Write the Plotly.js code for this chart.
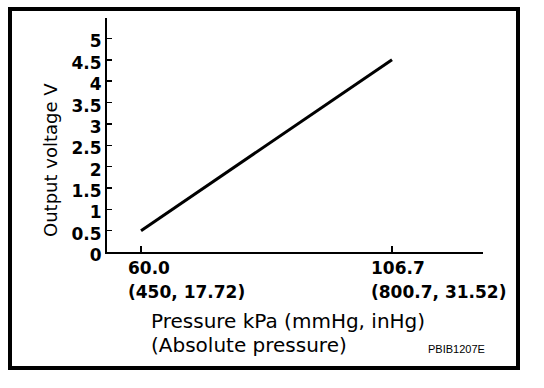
<!DOCTYPE html>
<html>
<head>
<meta charset="utf-8">
<script src="https://cdn.plot.ly/plotly-3.0.1.min.js"></script>
<style>
  html, body { margin: 0; padding: 0; background: #fff; }
  #wrap { position: relative; width: 544px; height: 388px; }
  #chart { width: 544px; height: 388px; }
  #frame { position: absolute; left: 8px; top: 7px; width: 512px; height: 363px;
           box-sizing: border-box; border: 4px solid #000; pointer-events: none; }
</style>
</head>
<body>
<div id="wrap">
  <div id="chart"></div>
  <div id="frame"></div>
</div>
<script>
// ---- data ----
const pressureKPa = [60.0, 106.7];
const outputVoltage = [0.5, 4.5];
const xTickVals = [60.0, 106.7];
const xTickLine1 = ["60.0", "106.7"];
const xTickLine2 = ["(450, 17.72)", "(800.7, 31.52)"];
const yTickVals = [0, 0.5, 1, 1.5, 2, 2.5, 3, 3.5, 4, 4.5, 5];
const yTickText = ["0", "0.5", "1", "1.5", "2", "2.5", "3", "3.5", "4", "4.5", "5"];
const yTitle = "Output voltage V";
const xTitle1 = "Pressure kPa (mmHg, inHg)";
const xTitle2 = "(Absolute pressure)";
const figCode = "PBIB1207E";

// ---- styling helpers ----
const plotL = 107, plotT = 18, plotW = 376, plotH = 234;
const px = X => (X - plotL) / plotW;
const py = Y => (plotT + plotH - Y) / plotH;
const boldFont = { family: "DejaVu Sans", size: 17, color: "#000", weight: "bold" };
const regFont = { family: "DejaVu Sans", size: 20, color: "#000" };

const annotations = [];
const xShifts = [-15, -23];
xTickVals.forEach((v, i) => {
  annotations.push({ x: v, xref: "x", y: py(267.5), yref: "paper", text: "<b>" + xTickLine1[i] + "</b>",
    showarrow: false, xanchor: "left", yanchor: "middle", xshift: xShifts[i], font: boldFont });
  annotations.push({ x: v, xref: "x", y: py(292), yref: "paper", text: "<b>" + xTickLine2[i] + "</b>",
    showarrow: false, xanchor: "left", yanchor: "middle", xshift: xShifts[i], font: boldFont });
});
annotations.push({ x: px(149), xref: "paper", y: py(321), yref: "paper", text: xTitle1,
  showarrow: false, xanchor: "left", yanchor: "middle", font: regFont });
annotations.push({ x: px(149), xref: "paper", y: py(345), yref: "paper", text: xTitle2,
  showarrow: false, xanchor: "left", yanchor: "middle", font: regFont });
annotations.push({ x: px(50), xref: "paper", y: py(160), yref: "paper", text: yTitle, textangle: -90,
  showarrow: false, xanchor: "center", yanchor: "middle", font: { family: "DejaVu Sans", size: 18, color: "#000" } });
annotations.push({ x: px(456.5), xref: "paper", y: py(349), yref: "paper", text: figCode,
  showarrow: false, xanchor: "center", yanchor: "middle", font: { family: "Liberation Sans", size: 11, color: "#000" } });

const trace = {
  x: pressureKPa, y: outputVoltage, type: "scatter", mode: "lines",
  line: { color: "#000", width: 3 }, hoverinfo: "skip"
};

const layout = {
  width: 544, height: 388,
  margin: { l: plotL, r: 544 - plotL - plotW, t: plotT, b: 388 - plotT - plotH, pad: 0 },
  paper_bgcolor: "#fff", plot_bgcolor: "#fff",
  showlegend: false,
  xaxis: {
    range: [53.67, 123.63], showgrid: false, zeroline: false,
    showline: true, linecolor: "#000", linewidth: 2,
    tickmode: "array", tickvals: xTickVals, ticktext: xTickVals.map(() => ""),
    ticks: "inside", ticklen: 6, tickwidth: 1.5, tickcolor: "#000", showticklabels: false
  },
  yaxis: {
    range: [0, 5.48], showgrid: false, zeroline: false,
    showline: true, linecolor: "#000", linewidth: 2,
    tickmode: "array", tickvals: yTickVals, ticktext: yTickText,
    ticks: "inside", ticklen: 5, tickwidth: 1.5, tickcolor: "#000",
    tickfont: boldFont, ticklabelstandoff: 0, ticklabelshift: 3
  },
  annotations: annotations
};

Plotly.newPlot("chart", [trace], layout, { staticPlot: true, displayModeBar: false });
</script>
</body>
</html>
